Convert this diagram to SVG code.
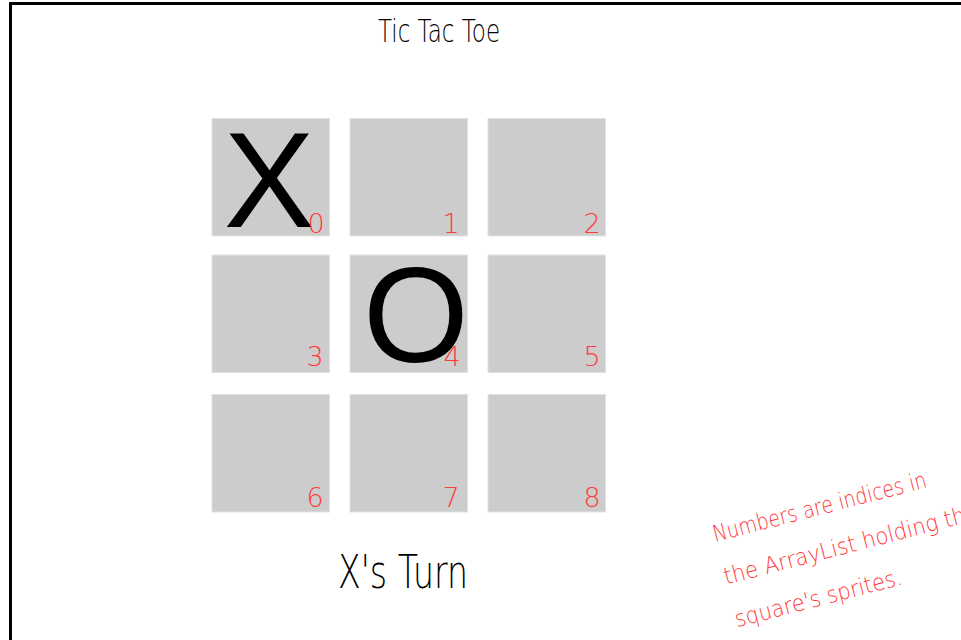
<svg xmlns="http://www.w3.org/2000/svg" width="961" height="640" viewBox="0 0 961 640">
<style>
.sq{fill:#cccccc;stroke:#e2e2e2;stroke-width:1}
.num{font-family:"DejaVu Sans","Liberation Sans",sans-serif;font-weight:200;font-size:27px;fill:#ff3a3a;text-anchor:middle}
.big{font-family:"Liberation Sans",Arial,sans-serif;font-size:136px;fill:#000;text-anchor:middle}
.ttl{font-family:"DejaVu Sans","Liberation Sans",sans-serif;font-weight:200;fill:#000}
.note{font-family:"DejaVu Sans","Liberation Sans",sans-serif;font-weight:200;font-size:23px;fill:#ff3a3a}
</style>
<rect width="961" height="640" fill="#fff"/>
<path d="M10.5,640 V3.5 H961" fill="none" stroke="#000" stroke-width="3"/>
<text class="ttl" x="378" y="42" font-size="32" textLength="122" lengthAdjust="spacingAndGlyphs">Tic Tac Toe</text>
<g id="sq0"><rect class="sq" x="212" y="118.5" width="117.5" height="117.5"/><text class="big" x="269" y="227">X</text><text class="num" x="316" y="233">0</text></g>
<g id="sq1"><rect class="sq" x="350" y="118.5" width="117.5" height="117.5"/><text class="num" x="451" y="233">1</text></g>
<g id="sq2"><rect class="sq" x="488" y="118.5" width="117.5" height="117.5"/><text class="num" x="592" y="233">2</text></g>
<g id="sq3"><rect class="sq" x="212" y="255" width="117.5" height="117.5"/><text class="num" x="315" y="366">3</text></g>
<g id="sq4"><rect class="sq" x="350" y="255" width="117.5" height="117.5"/><text class="num" x="452" y="366">4</text><text class="big" x="416" y="362">O</text></g>
<g id="sq5"><rect class="sq" x="488" y="255" width="117.5" height="117.5"/><text class="num" x="592" y="366">5</text></g>
<g id="sq6"><rect class="sq" x="212" y="394.5" width="117.5" height="117.5"/><text class="num" x="315" y="507">6</text></g>
<g id="sq7"><rect class="sq" x="350" y="394.5" width="117.5" height="117.5"/><text class="num" x="451" y="507">7</text></g>
<g id="sq8"><rect class="sq" x="488" y="394.5" width="117.5" height="117.5"/><text class="num" x="592" y="507">8</text></g>
<text class="ttl" x="338" y="588" font-size="46" textLength="130" lengthAdjust="spacingAndGlyphs">X's Turn</text>
<g transform="translate(715,542) rotate(-14.5)">
<text class="note" x="0" y="0" textLength="220" lengthAdjust="spacingAndGlyphs">Numbers are indices in</text>
<text class="note" x="0" y="44" textLength="262" lengthAdjust="spacingAndGlyphs">the ArrayList holding the</text>
<text class="note" x="0" y="88" textLength="172" lengthAdjust="spacingAndGlyphs">square's sprites.</text>
</g>
</svg>
